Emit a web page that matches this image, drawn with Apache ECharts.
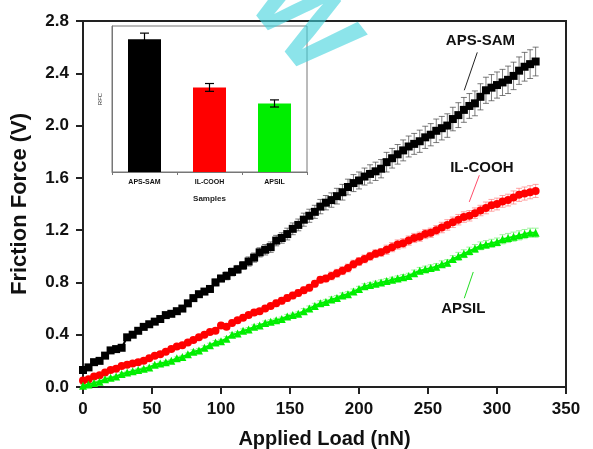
<!DOCTYPE html>
<html>
<head>
<meta charset="utf-8">
<script src="https://cdn.jsdelivr.net/npm/echarts@6/dist/echarts.min.js"></script>
<style>
  html, body { margin: 0; padding: 0; background: #fff; }
  #chart { width: 593px; height: 449px; }
</style>
</head>
<body>
<div id="chart"></div>
<script>
// Applied load (nN), shared by all three curves
const loads = [0,4,8,12,16,20,24,28,32,36,40,44,48,52,56,60,64,68,72,76,80,84,88,92,96,100,104,108,112,116,120,124,128,132,136,140,144,148,152,156,160,164,168,172,176,180,184,188,192,196,200,204,208,212,216,220,224,228,232,236,240,244,248,252,256,260,264,268,272,276,280,284,288,292,296,300,304,308,312,316,320,324,328];

// Friction force (V)
const apsSam = [0.13,0.15,0.19,0.20,0.24,0.28,0.29,0.30,0.38,0.40,0.43,0.46,0.48,0.50,0.52,0.55,0.56,0.58,0.60,0.64,0.68,0.71,0.73,0.75,0.80,0.83,0.85,0.88,0.90,0.93,0.96,0.99,1.03,1.05,1.07,1.12,1.14,1.17,1.21,1.24,1.28,1.31,1.34,1.38,1.41,1.43,1.46,1.49,1.53,1.56,1.58,1.61,1.63,1.65,1.67,1.72,1.75,1.78,1.81,1.84,1.86,1.88,1.91,1.93,1.96,1.98,2.00,2.05,2.08,2.12,2.15,2.17,2.22,2.27,2.29,2.31,2.33,2.35,2.38,2.42,2.45,2.47,2.49];
const ilCooh = [0.05,0.06,0.08,0.09,0.11,0.13,0.14,0.16,0.17,0.18,0.19,0.20,0.22,0.24,0.25,0.27,0.29,0.31,0.32,0.34,0.36,0.38,0.40,0.42,0.43,0.47,0.46,0.49,0.51,0.53,0.55,0.57,0.58,0.60,0.62,0.64,0.66,0.68,0.70,0.72,0.74,0.76,0.79,0.82,0.83,0.85,0.87,0.89,0.91,0.94,0.96,0.98,1.00,1.02,1.03,1.05,1.07,1.09,1.10,1.12,1.14,1.15,1.17,1.18,1.20,1.22,1.24,1.26,1.28,1.30,1.31,1.33,1.35,1.37,1.39,1.40,1.42,1.43,1.45,1.47,1.48,1.49,1.50];
const apsil = [0.01,0.02,0.03,0.04,0.06,0.07,0.08,0.10,0.11,0.12,0.13,0.14,0.15,0.17,0.18,0.19,0.20,0.22,0.23,0.25,0.27,0.28,0.30,0.32,0.34,0.35,0.37,0.40,0.41,0.43,0.44,0.46,0.47,0.49,0.50,0.51,0.52,0.54,0.55,0.56,0.58,0.60,0.62,0.64,0.65,0.67,0.68,0.70,0.71,0.73,0.75,0.77,0.78,0.79,0.80,0.81,0.82,0.83,0.84,0.85,0.87,0.89,0.90,0.91,0.92,0.94,0.95,0.98,1.00,1.02,1.04,1.06,1.08,1.09,1.10,1.11,1.13,1.14,1.15,1.16,1.17,1.18,1.18];

// Standard deviations (V)
const apsSamErr = [0.01,0.01,0.01,0.01,0.01,0.01,0.01,0.01,0.01,0.01,0.015,0.015,0.015,0.015,0.015,0.015,0.015,0.02,0.02,0.02,0.02,0.02,0.02,0.025,0.025,0.025,0.03,0.03,0.03,0.03,0.035,0.035,0.035,0.04,0.04,0.04,0.04,0.045,0.045,0.045,0.05,0.05,0.05,0.055,0.055,0.055,0.06,0.06,0.06,0.065,0.065,0.065,0.07,0.07,0.07,0.075,0.075,0.075,0.08,0.08,0.08,0.085,0.085,0.085,0.09,0.09,0.09,0.09,0.095,0.095,0.095,0.095,0.1,0.1,0.1,0.1,0.1,0.105,0.105,0.105,0.11,0.11,0.11];
const ilCoohErr = [0.01,0.01,0.01,0.01,0.01,0.01,0.01,0.01,0.01,0.01,0.015,0.015,0.015,0.015,0.015,0.015,0.015,0.015,0.015,0.015,0.015,0.015,0.015,0.015,0.015,0.02,0.02,0.02,0.02,0.02,0.02,0.02,0.02,0.02,0.02,0.025,0.025,0.025,0.025,0.025,0.025,0.025,0.025,0.025,0.025,0.03,0.03,0.03,0.03,0.03,0.03,0.03,0.03,0.03,0.03,0.035,0.035,0.035,0.035,0.035,0.035,0.035,0.035,0.035,0.035,0.04,0.04,0.04,0.04,0.04,0.04,0.04,0.04,0.045,0.045,0.045,0.045,0.045,0.05,0.05,0.05,0.05,0.05];
const apsilErr = [0.01,0.01,0.01,0.01,0.01,0.01,0.01,0.01,0.01,0.01,0.01,0.01,0.01,0.01,0.01,0.01,0.01,0.01,0.01,0.01,0.015,0.015,0.015,0.015,0.015,0.015,0.015,0.015,0.015,0.015,0.015,0.015,0.015,0.015,0.015,0.015,0.015,0.015,0.015,0.015,0.02,0.02,0.02,0.02,0.02,0.02,0.02,0.02,0.02,0.02,0.02,0.02,0.02,0.02,0.02,0.02,0.02,0.02,0.02,0.02,0.025,0.025,0.025,0.025,0.025,0.025,0.025,0.025,0.03,0.03,0.03,0.03,0.03,0.03,0.03,0.03,0.035,0.035,0.035,0.035,0.035,0.035,0.035];

// Main axis ticks
const xTicks = [0, 50, 100, 150, 200, 250, 300, 350];
const yTicks = [0.0, 0.4, 0.8, 1.2, 1.6, 2.0, 2.4, 2.8];

// Inset: relative friction coefficient per sample
const samples = ['APS-SAM', 'IL-COOH', 'APSIL'];
const rfc = [7.45, 4.75, 3.85];
const rfcErr = [0.35, 0.22, 0.2];
const sampleColors = ['#000000', '#ff0000', '#00ee00'];

// Curve labels: [text, label x, label y, leader from x, from y, to x, to y, leader colour] in data units
const curveLabels = [
  ['APS-SAM', 288, 2.65, 285.7, 2.56, 276.3, 2.27, '#222222'],
  ['IL-COOH', 289, 1.68, 287.2, 1.62, 279.9, 1.416, '#ff4d6a'],
  ['APSIL', 275.6, 0.60, 282.8, 0.88, 276.3, 0.679, '#22dd22']
];

const FONT = 'Liberation Sans, Arial, sans-serif';

function pairs(ys) { return loads.map((x, i) => [x, ys[i]]); }
function triples(ys, es) { return loads.map((x, i) => [x, ys[i], es[i]]); }

function errorBars(color, capHalf, width) {
  return function (params, api) {
    const x = api.value(0), y = api.value(1), e = api.value(2);
    const hi = api.coord([x, y + e]);
    const lo = api.coord([x, y - e]);
    const st = { stroke: color, lineWidth: width };
    return {
      type: 'group',
      children: [
        { type: 'line', shape: { x1: hi[0], y1: hi[1], x2: lo[0], y2: lo[1] }, style: st },
        { type: 'line', shape: { x1: hi[0] - capHalf, y1: hi[1], x2: hi[0] + capHalf, y2: hi[1] }, style: st },
        { type: 'line', shape: { x1: lo[0] - capHalf, y1: lo[1], x2: lo[0] + capHalf, y2: lo[1] }, style: st }
      ]
    };
  };
}

function insetErrorBars(params, api) {
  const i = api.value(0);
  const y = api.value(1), e = api.value(2);
  const hi = api.coord([i, y + e]);
  const lo = api.coord([i, y - e]);
  const st = { stroke: '#000', lineWidth: 1.2 };
  return {
    type: 'group',
    children: [
      { type: 'line', shape: { x1: hi[0], y1: hi[1], x2: lo[0], y2: lo[1] }, style: st },
      { type: 'line', shape: { x1: hi[0] - 4.5, y1: hi[1], x2: hi[0] + 4.5, y2: hi[1] }, style: st },
      { type: 'line', shape: { x1: lo[0] - 4.5, y1: lo[1], x2: lo[0] + 4.5, y2: lo[1] }, style: st }
    ]
  };
}

const chart = echarts.init(document.getElementById('chart'), null, { renderer: 'canvas' });

const option = {
  backgroundColor: '#fff',
  animation: false,
  grid: [
    { left: 83, right: 27, top: 21, bottom: 62, containLabel: false, outerBoundsMode: 'none',
      show: true, borderColor: '#222', borderWidth: 2, backgroundColor: 'transparent' },
    { left: 112, right: 286, top: 26, bottom: 277, containLabel: false, outerBoundsMode: 'none',
      show: true, borderColor: '#777', borderWidth: 1, backgroundColor: '#fff', z: 5 }
  ],
  xAxis: [
    {
      type: 'value', gridIndex: 0, min: 0, max: 350, interval: 50,
      axisLine: { lineStyle: { color: '#222', width: 2 } },
      axisTick: { show: true, inside: false, length: 7, lineStyle: { color: '#222', width: 2 } },
      axisLabel: { color: '#111', fontFamily: FONT, fontWeight: 'bold', fontSize: 17, margin: 14,
        formatter: v => xTicks.includes(v) ? String(v) : '' },
      splitLine: { show: false },
      name: 'Applied Load (nN)', nameLocation: 'middle', nameGap: 42,
      nameTextStyle: { color: '#111', fontFamily: FONT, fontWeight: 'bold', fontSize: 20 }
    },
    {
      type: 'category', gridIndex: 1, data: samples, z: 6,
      axisLine: { lineStyle: { color: '#777', width: 1 } },
      axisTick: { show: true, length: 3, lineStyle: { color: '#777' } },
      axisLabel: { color: '#111', fontFamily: FONT, fontWeight: 'bold', fontSize: 7, margin: 7 },
      name: 'Samples', nameLocation: 'middle', nameGap: 23,
      nameTextStyle: { color: '#222', fontFamily: FONT, fontWeight: 'bold', fontSize: 8 }
    }
  ],
  yAxis: [
    {
      type: 'value', gridIndex: 0, min: 0, max: 2.8, interval: 0.4,
      axisLine: { show: true, lineStyle: { color: '#222', width: 2 } },
      axisTick: { show: true, inside: false, length: 7, lineStyle: { color: '#222', width: 2 } },
      axisLabel: { color: '#111', fontFamily: FONT, fontWeight: 'bold', fontSize: 17, margin: 14,
        formatter: v => yTicks.some(t => Math.abs(t - v) < 1e-6) ? v.toFixed(1) : '' },
      splitLine: { show: false },
      name: 'Friction Force (V)', nameLocation: 'middle', nameGap: 52,
      nameTextStyle: { color: '#111', fontFamily: FONT, fontWeight: 'bold', fontSize: 22 }
    },
    {
      type: 'value', gridIndex: 1, min: 0, max: 8.2, z: 6,
      axisLine: { show: true, lineStyle: { color: '#777', width: 1 } },
      axisTick: { show: false },
      axisLabel: { show: false },
      splitLine: { show: false },
      name: 'RFC', nameLocation: 'middle', nameGap: 9,
      nameTextStyle: { color: '#333', fontFamily: FONT, fontSize: 6 }
    }
  ],
  series: [
    { type: 'custom', xAxisIndex: 0, yAxisIndex: 0, renderItem: errorBars('#444', 3, 0.7), data: triples(apsSam, apsSamErr), encode: { x: 0, y: 1 }, z: 2 },
    { type: 'custom', xAxisIndex: 0, yAxisIndex: 0, renderItem: errorBars('#ff7a7a', 3, 0.7), data: triples(ilCooh, ilCoohErr), encode: { x: 0, y: 1 }, z: 2 },
    { type: 'custom', xAxisIndex: 0, yAxisIndex: 0, renderItem: errorBars('#77ee77', 3, 0.7), data: triples(apsil, apsilErr), encode: { x: 0, y: 1 }, z: 2 },
    { name: 'APS-SAM', type: 'line', xAxisIndex: 0, yAxisIndex: 0, data: pairs(apsSam), symbol: 'rect', symbolSize: 8,
      lineStyle: { color: '#000', width: 2 }, itemStyle: { color: '#000' }, z: 3 },
    { name: 'IL-COOH', type: 'line', xAxisIndex: 0, yAxisIndex: 0, data: pairs(ilCooh), symbol: 'circle', symbolSize: 8,
      lineStyle: { color: '#ff0000', width: 2 }, itemStyle: { color: '#ff0000' }, z: 3 },
    { name: 'APSIL', type: 'line', xAxisIndex: 0, yAxisIndex: 0, data: pairs(apsil), symbol: 'triangle', symbolSize: 8,
      lineStyle: { color: '#00ee00', width: 2 }, itemStyle: { color: '#00ee00' }, z: 3 },
    { type: 'bar', xAxisIndex: 1, yAxisIndex: 1, barWidth: 33, z: 6,
      data: rfc.map((v, i) => ({ value: v, itemStyle: { color: sampleColors[i] } })) },
    { type: 'custom', xAxisIndex: 1, yAxisIndex: 1, renderItem: insetErrorBars, z: 7,
      data: rfc.map((v, i) => [i, v, rfcErr[i]]), encode: { x: 0, y: 1 } }
  ]
};

chart.setOption(option);

// Curve labels with leader lines, placed from data coordinates
const graphics = [];
curveLabels.forEach(([txt, lx, ly, ax, ay, bx, by, col]) => {
  const p = chart.convertToPixel({ gridIndex: 0 }, [lx, ly]);
  const a = chart.convertToPixel({ gridIndex: 0 }, [ax, ay]);
  const b = chart.convertToPixel({ gridIndex: 0 }, [bx, by]);
  graphics.push({ type: 'line', shape: { x1: a[0], y1: a[1], x2: b[0], y2: b[1] }, style: { stroke: col, lineWidth: 1 }, z: 10 });
  graphics.push({ type: 'text', x: p[0], y: p[1], style: { text: txt, fill: '#111', font: 'bold 15px ' + FONT, align: 'center', verticalAlign: 'middle' }, z: 10 });
});
// Publisher watermark
graphics.push({ type: 'text', x: 300, y: 22, rotation: -0.9, style: { text: 'W', fill: 'rgba(64, 210, 220, 0.6)', font: 'bold 110px ' + FONT, align: 'center', verticalAlign: 'middle' }, z: 20 });
chart.setOption({ graphic: graphics });
</script>
</body>
</html>
